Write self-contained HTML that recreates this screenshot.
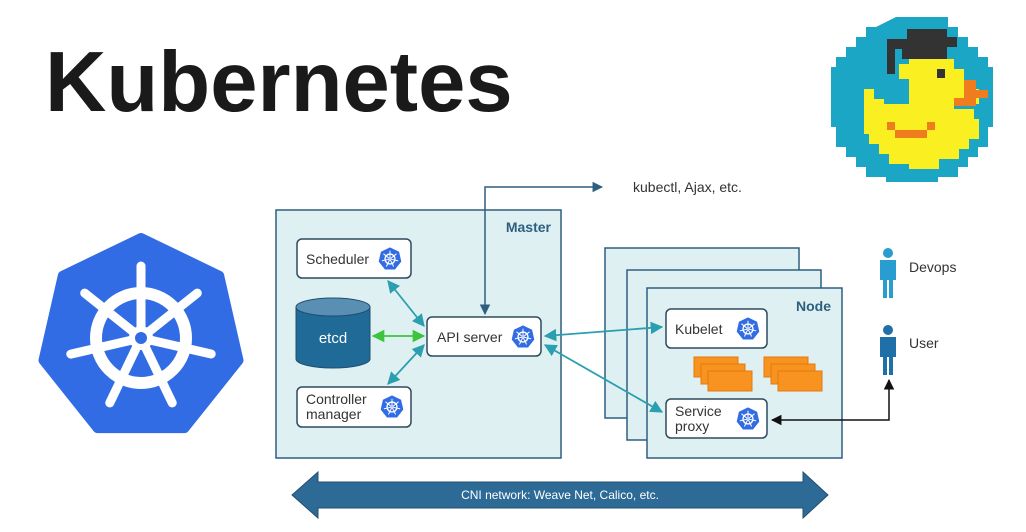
<!DOCTYPE html>
<html><head><meta charset="utf-8"><style>
html,body{margin:0;padding:0;background:#fff;width:1026px;height:532px;overflow:hidden}
svg{display:block;font-family:"Liberation Sans",sans-serif}
</style></head><body>
<svg width="1026" height="532" viewBox="0 0 1026 532" xmlns="http://www.w3.org/2000/svg">
<defs>
<marker id="ab" viewBox="0 0 10 10" refX="9" refY="5" markerWidth="7" markerHeight="7" orient="auto-start-reverse"><path d="M0,0L10,5L0,10z" fill="#2a9fb0"/></marker>
<marker id="ag" viewBox="0 0 10 10" refX="9" refY="5" markerWidth="7" markerHeight="7" orient="auto-start-reverse"><path d="M0,0L10,5L0,10z" fill="#3cc43c"/></marker>
<marker id="ad" viewBox="0 0 10 10" refX="9" refY="5" markerWidth="7" markerHeight="7" orient="auto-start-reverse"><path d="M0,0L10,5L0,10z" fill="#2e5f80"/></marker>
<marker id="ak" viewBox="0 0 10 10" refX="9" refY="5" markerWidth="7" markerHeight="7" orient="auto-start-reverse"><path d="M0,0L10,5L0,10z" fill="#111"/></marker>
<g id="wheel">
<circle r="45" fill="none" stroke="#fff" stroke-width="12"/>
<g stroke="#fff" stroke-width="9" stroke-linecap="round">
<line x1="0" y1="-8" x2="0" y2="-72"/>
<line x1="0" y1="-8" x2="0" y2="-72" transform="rotate(51.4)"/>
<line x1="0" y1="-8" x2="0" y2="-72" transform="rotate(102.8)"/>
<line x1="0" y1="-8" x2="0" y2="-72" transform="rotate(154.3)"/>
<line x1="0" y1="-8" x2="0" y2="-72" transform="rotate(205.7)"/>
<line x1="0" y1="-8" x2="0" y2="-72" transform="rotate(257.1)"/>
<line x1="0" y1="-8" x2="0" y2="-72" transform="rotate(308.6)"/>
</g>
<circle r="9" fill="#326ce5" stroke="#fff" stroke-width="6"/>
</g>
<g id="hep"><polygon points="0,-100 78.2,-62.3 97.5,22.3 43.4,90.1 -43.4,90.1 -97.5,22.3 -78.2,-62.3" fill="#326ce5" stroke="#326ce5" stroke-width="10" stroke-linejoin="round"/><use href="#wheel"/></g>
<g id="ki"><g transform="scale(0.11)"><use href="#hep"/></g></g>
</defs>

<text x="45" y="111" font-size="85" font-weight="bold" fill="#1a1a1a">Kubernetes</text>

<!-- duck -->
<g shape-rendering="crispEdges" transform="translate(9,-3)">
<path d="M887,20h52v10h10v10h10v10h10v10h10v10h5v60h-5v20h-10v10h-10v10h-10v10h-20v5h-52v-5h-20v-10h-10v-10h-10v-10h-10v-20h-5v-60h5v-10h10v-10h10v-10h10v-10h10z" fill="#1aa6c4"/>
<path d="M900,62h45v10h10v20h15v15h-25v5h20v10h5v20h-10v10h-10v10h-20v10h-30v-5h-20v-10h-10v-10h-10v-10h-5v-45h10v10h10v5h25v-25h-10v-15h10z" fill="#f9ef21"/>
<path d="M898,32h40v8h10v10h-10v12h-45v-10h-15v-10h20z M878,52h8v25h-8z" fill="#333"/>
<rect x="928" y="72" width="8" height="9" fill="#333"/>
<path d="M955,83h12v10h12v8h-12v8h-22v-8h10z" fill="#ef7d20"/>
<path d="M878,125h8v8h-8z M918,125h8v8h-8z M886,133h32v8h-32z" fill="#ef7d20"/>
</g>

<!-- big logo -->
<g transform="translate(141,338)"><use href="#hep"/></g>

<!-- master -->
<rect x="276" y="210" width="285" height="248" fill="#dff0f2" stroke="#2e5f80" stroke-width="1.5"/>
<text x="551" y="232" font-size="14" font-weight="bold" fill="#2e5f80" text-anchor="end">Master</text>

<!-- nodes -->
<rect x="605" y="248" width="194" height="170" fill="#dff0f2" stroke="#2e5f80" stroke-width="1.5"/>
<rect x="627" y="270" width="194" height="170" fill="#dff0f2" stroke="#2e5f80" stroke-width="1.5"/>
<rect x="647" y="288" width="195" height="170" fill="#dff0f2" stroke="#2e5f80" stroke-width="1.5"/>
<text x="831" y="311" font-size="14" font-weight="bold" fill="#2e5f80" text-anchor="end">Node</text>

<!-- component boxes -->
<g stroke="#2e4a5f" stroke-width="1.5" fill="#fff">
<rect x="297" y="239" width="114" height="39" rx="5"/>
<rect x="297" y="387" width="114" height="40" rx="5"/>
<rect x="427" y="317" width="114" height="39" rx="5"/>
<rect x="666" y="309" width="101" height="39" rx="5"/>
<rect x="666" y="399" width="101" height="39" rx="5"/>
</g>
<g font-size="14" fill="#333">
<text x="306" y="264">Scheduler</text>
<text x="306" y="404">Controller</text>
<text x="306" y="419">manager</text>
<text x="437" y="342">API server</text>
<text x="675" y="334">Kubelet</text>
<text x="675" y="416">Service</text>
<text x="675" y="431">proxy</text>
</g>
<use href="#ki" transform="translate(390,259)"/>
<use href="#ki" transform="translate(392,407)"/>
<use href="#ki" transform="translate(523,337)"/>
<use href="#ki" transform="translate(748,329)"/>
<use href="#ki" transform="translate(748,419)"/>

<!-- etcd -->
<path d="M296,307v52a37,9 0 0 0 74,0v-52z" fill="#1f6a96" stroke="#1f4f70" stroke-width="1"/>
<ellipse cx="333" cy="307" rx="37" ry="9" fill="#5a8fb4" stroke="#1f4f70" stroke-width="1"/>
<text x="333" y="343" font-size="15" fill="#fff" text-anchor="middle">etcd</text>

<!-- pods -->
<g fill="#f7931e" stroke="#e07a10" stroke-width="1">
<rect x="694" y="357" width="44" height="20"/><rect x="701" y="364" width="44" height="20"/><rect x="708" y="371" width="44" height="20"/>
<rect x="764" y="357" width="44" height="20"/><rect x="771" y="364" width="44" height="20"/><rect x="778" y="371" width="44" height="20"/>
</g>

<!-- connectors -->
<g stroke="#2a9fb0" stroke-width="1.8" fill="none">
<line x1="388" y1="281" x2="424" y2="326" marker-start="url(#ab)" marker-end="url(#ab)"/>
<line x1="388" y1="384" x2="424" y2="345" marker-start="url(#ab)" marker-end="url(#ab)"/>
<line x1="545" y1="336" x2="662" y2="327" marker-start="url(#ab)" marker-end="url(#ab)"/>
<line x1="545" y1="345" x2="662" y2="412" marker-start="url(#ab)" marker-end="url(#ab)"/>
</g>
<line x1="373" y1="336" x2="424" y2="336" stroke="#3cc43c" stroke-width="1.8" marker-start="url(#ag)" marker-end="url(#ag)"/>
<polyline points="485,314 485,187 602,187" fill="none" stroke="#2e5f80" stroke-width="1.5" marker-start="url(#ad)" marker-end="url(#ad)"/>
<text x="633" y="192" font-size="14" fill="#333">kubectl, Ajax, etc.</text>
<polyline points="889,380 889,420 772,420" fill="none" stroke="#111" stroke-width="1.5" marker-start="url(#ak)" marker-end="url(#ak)"/>

<!-- people -->
<g fill="#2a9dd0">
<circle cx="888" cy="253" r="5"/>
<path d="M880,260h16v20h-3v18h-4v-18h-2v18h-4v-18h-3z"/>
</g>
<g fill="#1f6fa8">
<circle cx="888" cy="330" r="5"/>
<path d="M880,337h16v20h-3v18h-4v-18h-2v18h-4v-18h-3z"/>
</g>
<text x="909" y="272" font-size="14" fill="#333">Devops</text>
<text x="909" y="348" font-size="14" fill="#333">User</text>

<!-- CNI -->
<polygon points="292,495 318,472 318,482 803,482 803,472 828,495 803,518 803,508 318,508 318,518" fill="#2e6a96" stroke="#244f70" stroke-width="1"/>
<text x="560" y="499" font-size="12" fill="#fff" text-anchor="middle">CNI network: Weave Net, Calico, etc.</text>
</svg>
</body></html>
